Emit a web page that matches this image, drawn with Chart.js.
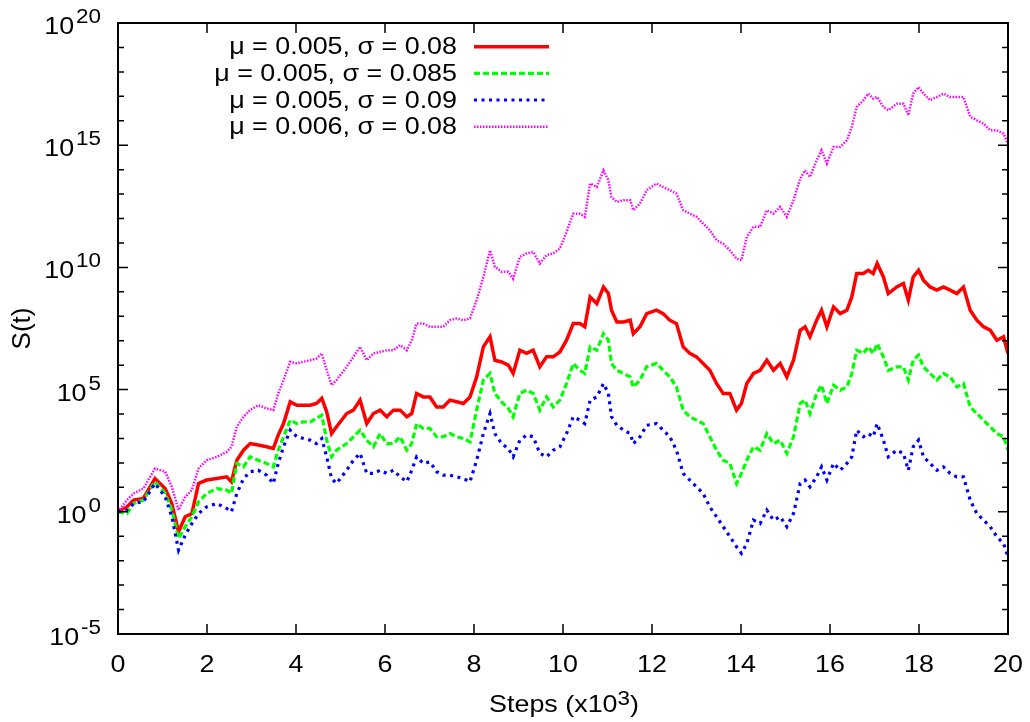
<!DOCTYPE html>
<html>
<head>
<meta charset="utf-8">
<script src="https://cdn.jsdelivr.net/npm/chart.js@4.4.1/dist/chart.umd.min.js"></script>
<style>
    html, body { margin: 0; padding: 0; background: #ffffff; }
    #wrap { width: 1030px; height: 722px; }
</style>
</head>
<body>
<div id="wrap"><canvas id="grafico" width="1030" height="722"></canvas></div>
<script>
// Steps in units of 10^3
const steps = [
    0, 0.20, 0.35, 0.57, 0.83, 1.06, 1.21, 1.36, 1.51, 1.66, 1.81, 1.99, 2.22, 2.44, 2.55, 2.67,
    2.82, 2.97, 3.15, 3.34, 3.49, 3.60, 3.72, 3.87, 4.02, 4.17, 4.32, 4.46, 4.58, 4.69, 4.80, 4.91,
    5.14, 5.29, 5.44, 5.59, 5.74, 5.89, 6.04, 6.19, 6.34, 6.49, 6.60, 6.71, 6.86, 7.01, 7.16, 7.31,
    7.46, 7.61, 7.76, 7.91, 8.06, 8.21, 8.36, 8.47, 8.62, 8.77, 8.88, 9.03, 9.18, 9.33, 9.48, 9.63,
    9.78, 9.93, 10.08,
    10.23, 10.38, 10.49, 10.61, 10.76, 10.91, 11.02, 11.09, 11.21, 11.36, 11.51, 11.58, 11.73, 11.88,
    12.10, 12.25, 12.40, 12.55, 12.70, 12.85, 13.00, 13.15, 13.30, 13.45, 13.60, 13.75, 13.90, 14.01,
    14.13, 14.28, 14.43, 14.58, 14.73, 14.88, 15.03, 15.18,
    15.33, 15.44, 15.55, 15.70, 15.81, 15.93, 16.08, 16.23, 16.38, 16.49, 16.60, 16.75, 16.86, 16.97,
    17.06, 17.20, 17.31, 17.50, 17.65, 17.76, 17.87, 17.99, 18.10, 18.25, 18.40, 18.55, 18.70, 18.85,
    19.00, 19.15, 19.30, 19.45, 19.60, 19.75, 19.90, 20.00
];

// log10 S(t)
const expSigma080 = [
    0, 0.20, 0.48, 0.55, 1.36, 0.95, 0.34, -0.82, -0.20, -0.07, 1.16, 1.30, 1.36, 1.43, 1.23, 2.11,
    2.52, 2.79, 2.73, 2.66, 2.59, 3.14, 3.61, 4.50, 4.36, 4.36, 4.36, 4.43, 4.64, 4.09, 3.20, 3.48,
    4.02, 4.16, 4.57, 3.61, 4.02, 4.16, 3.89, 4.16, 4.16, 3.89, 4.02, 4.84, 4.70, 4.70, 4.29, 4.29,
    4.57, 4.50, 4.43, 4.70, 5.52, 6.75, 7.16, 6.20, 6.13, 6.00, 5.66, 6.61, 6.48, 6.61, 5.93, 6.34,
    6.34, 6.54, 7.02,
    7.70, 7.70, 7.57, 8.79, 8.52, 9.20, 8.93, 8.25, 7.77, 7.77, 7.84, 7.29, 7.57, 8.11,
    8.25, 8.11, 7.84, 7.70, 6.75, 6.48, 6.34, 6.07, 5.79, 5.25, 4.84, 4.84, 4.16, 4.43,
    5.25, 5.66, 5.79, 6.20, 5.79, 6.07, 5.52, 6.20,
    7.43, 7.57, 7.16, 7.84, 8.25, 7.57, 8.38, 8.11, 8.25, 8.79, 9.75, 9.75, 9.88, 9.75,
    10.16, 9.61, 8.93, 9.20, 9.34, 8.66, 9.61, 9.88, 9.48, 9.20, 9.07, 9.20, 9.07, 8.93,
    9.20, 8.25, 7.84, 7.57, 7.43, 7.02, 7.16, 6.48
];

const expSigma085 = [
    0, -0.07, 0.34, 0.48, 1.23, 0.75, 0.07, -1.09, -0.61, -0.20, 0.41, 0.75, 0.95, 0.89, 0.75, 1.98,
    1.84, 2.25, 2.11, 1.98, 1.84, 2.52, 3.07, 3.75, 3.61, 3.68, 3.68, 3.82, 3.95, 2.93, 2.25, 2.52,
    2.79, 3.07, 3.34, 2.93, 2.66, 3.20, 2.79, 2.79, 3.07, 2.52, 2.79, 3.61, 3.41, 3.41, 3.07, 3.07,
    3.20, 3.07, 3.00, 2.86, 4.16, 5.39, 5.66, 4.84, 4.50, 4.23, 3.89, 4.84, 4.98, 4.84, 4.16, 4.70,
    4.29, 4.57, 5.25,
    6.07, 5.79, 5.66, 6.75, 6.61, 7.29, 7.02, 6.07, 5.79, 5.66, 5.52, 5.11, 5.39, 5.93,
    6.07, 5.79, 5.52, 5.11, 4.16, 3.89, 3.75, 3.61, 3.07, 2.52, 2.11, 1.98, 1.16, 1.57,
    2.11, 2.66, 2.52, 3.20, 2.79, 2.93, 2.39, 3.07,
    4.43, 4.57, 4.02, 4.84, 5.18, 4.43, 5.18, 4.98, 5.11, 5.66, 6.61, 6.48, 6.75, 6.48,
    6.88, 6.34, 5.79, 5.93, 5.93, 5.39, 6.20, 6.41, 5.93, 5.66, 5.39, 5.66, 5.52, 5.11,
    5.25, 4.29, 4.02, 3.75, 3.48, 3.20, 3.07, 2.52
];

const expSigma090 = [
    0, 0.07, 0.34, 0.41, 1.16, 0.61, -0.20, -1.57, -0.95, -0.48, -0.07, 0.20, 0.34, 0.14, 0, 0.75,
    1.36, 1.64, 1.70, 1.50, 1.16, 1.98, 2.66, 3.34, 3.07, 3.00, 2.93, 2.79, 3.00, 2.25, 1.36, 1.16,
    1.70, 2.11, 2.39, 1.57, 1.57, 1.70, 1.57, 1.70, 1.43, 1.23, 1.70, 2.25, 1.98, 2.04, 1.64, 1.50,
    1.50, 1.43, 1.36, 1.23, 2.11, 3.20, 4.02, 3.20, 2.79, 2.59, 2.25, 2.93, 3.14, 3.07, 2.39, 2.25,
    2.52, 2.66, 3.20,
    3.89, 3.75, 3.61, 4.57, 4.70, 5.25, 4.84, 3.89, 3.54, 3.34, 3.20, 2.79, 3.07, 3.54,
    3.61, 3.34, 3.07, 2.52, 1.57, 1.30, 1.02, 0.75, 0.20, -0.20, -0.61, -1.02, -1.43, -1.70,
    -1.30, -0.34, -0.48, 0.07, -0.34, -0.20, -0.61, -0.07,
    1.16, 1.30, 1.02, 1.43, 1.84, 1.30, 1.98, 1.70, 1.98, 2.25, 3.34, 3.07, 3.20, 3.07,
    3.61, 2.93, 2.25, 2.52, 2.39, 1.70, 2.66, 2.93, 2.25, 1.98, 1.70, 1.84, 1.57, 1.43,
    1.43, 0.48, -0.07, -0.34, -0.61, -1.02, -1.30, -1.84
];

const expMu006 = [
    0, 0.48, 0.75, 0.95, 1.77, 1.64, 1.02, 0.07, 0.61, 0.89, 1.77, 2.11, 2.25, 2.45, 2.66, 3.48,
    3.89, 4.16, 4.36, 4.23, 4.16, 4.84, 5.39, 6.14, 6.07, 6.14, 6.20, 6.27, 6.48, 5.79, 5.18, 5.39,
    5.93, 6.34, 6.75, 6.20, 6.48, 6.54, 6.61, 6.61, 6.82, 6.61, 7.02, 7.70, 7.70, 7.57, 7.57, 7.57,
    7.84, 7.91, 7.84, 7.91, 8.66, 9.61, 10.70, 10.02, 9.82, 9.82, 9.54, 10.43, 10.57, 10.63, 10.16, 10.50,
    10.57, 10.77, 11.45,
    12.20, 12.20, 12.07, 13.43, 13.29, 13.97, 13.57, 12.88, 12.68, 12.75, 12.75, 12.34, 12.61, 13.16,
    13.43, 13.29, 13.16, 13.02, 12.34, 12.20, 12.07, 11.79, 11.52, 11.11, 10.97, 10.70, 10.36, 10.29,
    11.25, 11.66, 11.66, 12.34, 12.20, 12.47, 12.07, 12.75,
    13.63, 13.97, 13.70, 14.38, 14.79, 14.25, 14.93, 14.93, 15.20, 15.75, 16.56, 16.84, 17.11, 16.91,
    16.97, 16.56, 16.43, 16.70, 16.70, 16.22, 17.11, 17.38, 17.11, 16.84, 16.97, 17.11, 16.97, 16.97,
    16.97, 16.16, 16.02, 15.88, 15.61, 15.61, 15.47, 15.06
];

const seriesLabels = [
    "μ = 0.005, σ = 0.08",
    "μ = 0.005, σ = 0.085",
    "μ = 0.005, σ = 0.09",
    "μ = 0.006, σ = 0.08",
];
const xTickValues = [0, 2, 4, 6, 8, 10, 12, 14, 16, 18, 20];
const yTickPowers = [-5, 0, 5, 10, 15, 20];

const FONT = '"Liberation Sans", Arial, Helvetica, sans-serif';
// gnuplot's text comes out a bit wider than Arial
const TEXT_SX = 1.12;

const lineStyles = [
    { color: "#ff0000", width: 3.5, dash: [] },
    { color: "#00ff00", width: 3.2, dash: [6, 3] },
    { color: "#0000ff", width: 3.2, dash: [3, 4.5] },
    { color: "#ff00ff", width: 2.5, dash: [1.5, 1.5] },
];

const seriesExps = [expSigma080, expSigma085, expSigma090, expMu006];

const datasets = seriesExps.map((exps, i) => ({
    label: seriesLabels[i],
    data: steps.map((s, k) => ({ x: s, y: Math.pow(10, exps[k]) })),
    borderColor: lineStyles[i].color,
    borderWidth: lineStyles[i].width,
    borderDash: lineStyles[i].dash,
    pointRadius: 0,
    tension: 0,
    fill: false,
    order: 3 - i,
}));

function textWidth(ctx, text, size) {
    ctx.font = size + "px " + FONT;
    return ctx.measureText(text).width * TEXT_SX;
}

// draws text stretched horizontally, returns its width
function wideText(ctx, text, x, y, size, align) {
    const w = textWidth(ctx, text, size);
    let left = x;
    if (align === "right") left = x - w;
    if (align === "center") left = x - w / 2;
    ctx.save();
    ctx.font = size + "px " + FONT;
    ctx.textAlign = "left";
    ctx.textBaseline = "alphabetic";
    ctx.translate(left, y);
    ctx.scale(TEXT_SX, 1);
    ctx.fillText(text, 0, 0);
    ctx.restore();
    return w;
}

// gnuplot-like frame, inward ticks, labels with superscripts and key
const gnuplotDecor = {
    id: "gnuplotDecor",
    afterDatasetsDraw(chart) {
        const { ctx, chartArea: a, scales } = chart;
        const x = scales.x;
        const y = scales.y;
        ctx.save();
        ctx.strokeStyle = "#000";
        ctx.lineWidth = 1.5;
        ctx.setLineDash([]);
        ctx.beginPath();
        y.ticks.forEach((t) => {
            const py = y.getPixelForValue(t.value);
            const len = t.major ? 10 : 6;
            ctx.moveTo(a.left, py);
            ctx.lineTo(a.left + len, py);
            ctx.moveTo(a.right, py);
            ctx.lineTo(a.right - len, py);
        });
        x.ticks.forEach((t) => {
            const px = x.getPixelForValue(t.value);
            ctx.moveTo(px, a.bottom);
            ctx.lineTo(px, a.bottom - 10);
            ctx.moveTo(px, a.top);
            ctx.lineTo(px, a.top + 10);
        });
        ctx.stroke();
        ctx.lineWidth = 2;
        ctx.strokeRect(a.left, a.top, a.right - a.left, a.bottom - a.top);
        ctx.restore();
    },
    afterDraw(chart) {
        const { ctx, chartArea: a, scales } = chart;
        const x = scales.x;
        const y = scales.y;
        ctx.save();
        ctx.fillStyle = "#000";

        // y tick labels: 10^n
        yTickPowers.forEach((p) => {
            const py = y.getPixelForValue(Math.pow(10, p));
            const we = wideText(ctx, String(p), 101, py, 20, "right");
            wideText(ctx, "10", 101 - we - 2, py + 11, 24, "right");
        });

        // x tick labels
        xTickValues.forEach((v) => {
            wideText(ctx, String(v), x.getPixelForValue(v), 672, 24, "center");
        });

        // x axis title: Steps (x10^3)
        const part1 = "Steps (x10";
        const w1 = textWidth(ctx, part1, 24);
        const w2 = textWidth(ctx, "3", 20);
        const w3 = textWidth(ctx, ")", 24);
        const tx = (a.left + a.right) / 2 + 1 - (w1 + w2 + w3) / 2;
        wideText(ctx, part1, tx, 712, 24, "left");
        wideText(ctx, "3", tx + w1, 705, 20, "left");
        wideText(ctx, ")", tx + w1 + w2, 712, 24, "left");

        // key
        const keyRows = [46.7, 73.3, 100, 126.7];
        chart.data.datasets.forEach((ds, i) => {
            const ly = keyRows[i];
            ctx.fillStyle = "#000";
            wideText(ctx, ds.label, 457, ly + 7.6, 24, "right");
            ctx.beginPath();
            ctx.strokeStyle = ds.borderColor;
            ctx.lineWidth = ds.borderWidth;
            ctx.setLineDash(ds.borderDash);
            ctx.moveTo(474, ly);
            ctx.lineTo(549, ly);
            ctx.stroke();
        });
        ctx.restore();
    },
};

new Chart(document.getElementById("grafico"), {
    type: "line",
    data: { datasets: datasets },
    options: {
        responsive: false,
        animation: false,
        layout: { padding: { top: 23, right: 22, left: 0, bottom: 0 } },
        plugins: {
            legend: { display: false },
            tooltip: { enabled: false },
        },
        scales: {
            x: {
                type: "linear",
                min: 0,
                max: 20,
                ticks: { display: false },
                grid: { display: false },
                border: { display: false },
                afterBuildTicks: (scale) => {
                    scale.ticks = xTickValues.map((v) => ({ value: v, major: true }));
                },
                afterFit: (scale) => {
                    scale.height = 88;
                },
            },
            y: {
                type: "logarithmic",
                min: 1e-5,
                max: 1e20,
                ticks: { display: false },
                grid: { display: false },
                border: { display: false },
                title: {
                    display: true,
                    text: "S(t)",
                    color: "#000",
                    font: { size: 26, family: FONT },
                    padding: { top: 7, bottom: 0 },
                },
                afterBuildTicks: (scale) => {
                    const ticks = [];
                    for (let e = yTickPowers[0]; e <= yTickPowers[yTickPowers.length - 1]; e++) {
                        ticks.push({ value: Math.pow(10, e), major: yTickPowers.includes(e) });
                    }
                    scale.ticks = ticks;
                },
                afterFit: (scale) => {
                    scale.width = 118;
                },
            },
        },
    },
    plugins: [gnuplotDecor],
});
</script>
</body>
</html>
